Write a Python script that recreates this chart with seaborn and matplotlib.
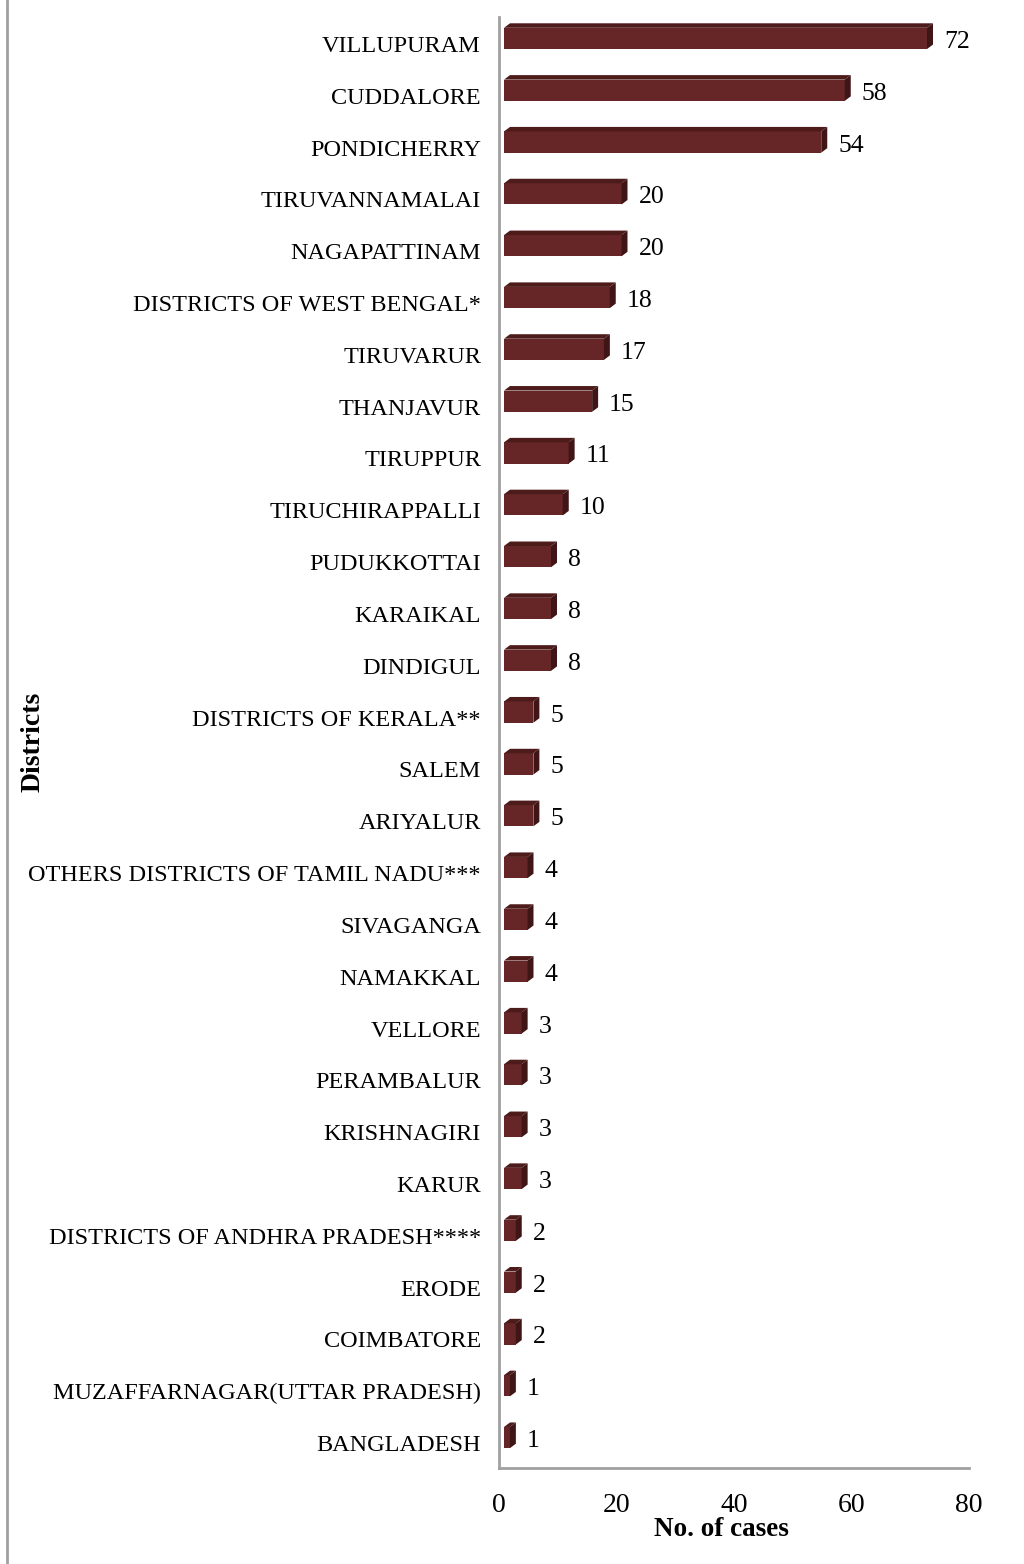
import matplotlib
matplotlib.use("Agg")
import matplotlib.pyplot as plt
import matplotlib.transforms as mtransforms
from matplotlib.patches import Polygon
from matplotlib.lines import Line2D
import seaborn as sns
import pandas as pd
import numpy as np

districts = [
    "VILLUPURAM", "CUDDALORE", "PONDICHERRY", "TIRUVANNAMALAI", "NAGAPATTINAM",
    "DISTRICTS OF WEST BENGAL*", "TIRUVARUR", "THANJAVUR", "TIRUPPUR",
    "TIRUCHIRAPPALLI", "PUDUKKOTTAI", "KARAIKAL", "DINDIGUL",
    "DISTRICTS OF KERALA**", "SALEM", "ARIYALUR",
    "OTHERS DISTRICTS OF TAMIL NADU***", "SIVAGANGA", "NAMAKKAL", "VELLORE",
    "PERAMBALUR", "KRISHNAGIRI", "KARUR", "DISTRICTS OF ANDHRA PRADESH****",
    "ERODE", "COIMBATORE", "MUZAFFARNAGAR(UTTAR PRADESH)", "BANGLADESH",
]
cases = [72, 58, 54, 20, 20, 18, 17, 15, 11, 10, 8, 8, 8, 5, 5, 5, 4, 4, 4,
         3, 3, 3, 3, 2, 2, 2, 1, 1]
x_ticks = [0, 20, 40, 60, 80]

front_col = "#662627"
top_col = "#4e1b1b"
side_col = "#401515"
axis_col = "#a0a0a0"

sns.set_style("white")
plt.rcParams["font.family"] = ["Liberation Serif", "DejaVu Serif"]
plt.rcParams["text.color"] = "black"
plt.rcParams["axes.labelcolor"] = "black"
plt.rcParams["xtick.labelcolor"] = "black"
plt.rcParams["ytick.labelcolor"] = "black"

df = pd.DataFrame({"district": districts, "cases": cases})

W, H = 1024, 1564
fig = plt.figure(figsize=(W / 100, H / 100), dpi=100)
ax = fig.add_axes([499 / W, 1 - 1468 / H, (969 - 499) / W, (1468 - 17) / H])

sns.barplot(data=df, x="cases", y="district", orient="h", color=front_col,
            width=0.41, saturation=1, ax=ax)
ax.set_xlim(0, 80)
ax.set_ylim(len(districts) - 0.5, -0.5)

# 3D look: shift front face, add top and side faces (display pixels)
off_x, off_y = 5, 4.5
dep_x, dep_y = 6, 4.5
for p in list(ax.patches):
    x0, y0 = p.get_x(), p.get_y()
    w, h = p.get_width(), p.get_height()
    (dx0, dy0), (dx1, dy1) = ax.transData.transform([(x0, y0), (x0 + w, y0 + h)])
    left, right = min(dx0, dx1) + off_x, max(dx0, dx1) + off_x
    bot, top = min(dy0, dy1) + off_y, max(dy0, dy1) + off_y
    p.set_visible(False)
    fig.patches.append(Polygon([(left, bot), (right, bot), (right, top), (left, top)],
                               closed=True, transform=None, facecolor=front_col,
                               edgecolor="none", figure=fig))
    fig.patches.append(Polygon([(left, top), (right, top), (right + dep_x, top + dep_y),
                                (left + dep_x, top + dep_y)], closed=True, transform=None,
                               facecolor=top_col, edgecolor="none", figure=fig))
    fig.patches.append(Polygon([(right, bot), (right + dep_x, bot + dep_y),
                                (right + dep_x, top + dep_y), (right, top)], closed=True,
                               transform=None, facecolor=side_col, edgecolor="none",
                               figure=fig))

for i, v in enumerate(cases):
    ax.annotate(str(v), xy=(v, i), xytext=(22, 1), textcoords="offset pixels",
                ha="left", va="center", fontsize=18.5, color="black")

ax.set_xticks(x_ticks)
ax.set_xticklabels([str(t) for t in x_ticks], fontsize=20)
ax.set_yticks(range(len(districts)))
ax.set_yticklabels(districts, fontsize=17.5)
ax.set_yticks(np.arange(-0.5, len(districts), 1), minor=True)
ax.tick_params(axis="y", which="major", length=0, pad=13)
ax.tick_params(axis="y", which="minor", length=6, width=1.5, color=axis_col, direction="out")
ax.tick_params(axis="x", which="major", length=6, width=1.5, color=axis_col,
               direction="out", pad=12)
shift_down = mtransforms.ScaledTranslation(0, -1 / 100, fig.dpi_scale_trans)
for t in ax.get_yticklabels():
    t.set_transform(t.get_transform() + shift_down)

for s in ["top", "right"]:
    ax.spines[s].set_visible(False)
for s in ["left", "bottom"]:
    ax.spines[s].set_color(axis_col)
    ax.spines[s].set_linewidth(2)

ax.set_xlabel("")
ax.set_ylabel("")
fig.text(721 / W, 1 - 1530 / H, "No. of cases", fontsize=19.5,
         fontweight="bold", ha="center", va="center")
fig.text(33 / W, 1 - 742 / H, "Districts", rotation=90, fontsize=20,
         fontweight="bold", ha="center", va="center")

fig.lines.append(Line2D([6.5 / W, 6.5 / W], [0, 1], transform=fig.transFigure,
                        color=axis_col, linewidth=2))

fig.savefig("out.png", dpi=100)
plt.close("all")
